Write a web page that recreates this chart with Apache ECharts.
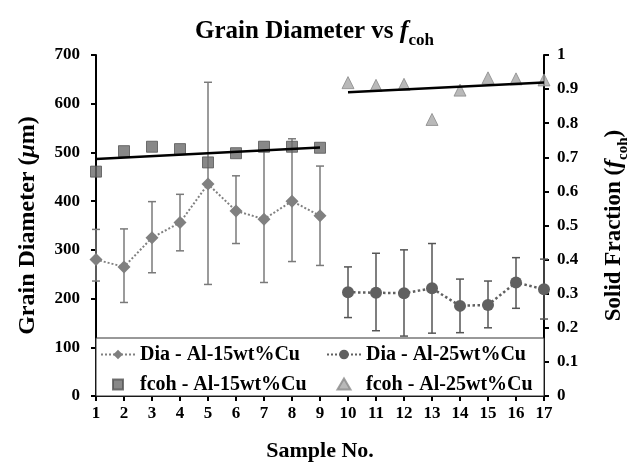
<!DOCTYPE html>
<html>
<head>
<meta charset="utf-8">
<script src="https://cdn.jsdelivr.net/npm/echarts@6/dist/echarts.min.js"></script>
<style>
  html, body { margin: 0; padding: 0; background: #fff; }
  #main { width: 629px; height: 471px; }
</style>
</head>
<body>
<div id="main"></div>
<script>
var samples15 = [1, 2, 3, 4, 5, 6, 7, 8, 9]
var samples25 = [10, 11, 12, 13, 14, 15, 16, 17]

// grain diameter (um) with error bar ends
var dia15 = [280, 265, 325, 356, 435, 380, 363, 400, 370]
var dia15Low = [236, 192, 253, 298, 229, 313, 233, 276, 268]
var dia15High = [342, 343, 399, 414, 644, 452, 505, 528, 472]
var dia25 = [213, 212, 211, 221, 185, 187, 233, 219]
var dia25Low = [161, 134, 123, 129, 130, 140, 180, 158]
var dia25High = [265, 293, 300, 313, 240, 236, 284, 281]

// solid fraction at coherency
var fcoh15 = [0.658, 0.718, 0.731, 0.724, 0.685, 0.712, 0.731, 0.731, 0.728]
var fcoh25 = [0.919, 0.911, 0.914, 0.811, 0.897, 0.933, 0.930, 0.927]

// linear trend lines (end points)
var trend15 = [[1, 0.695], [9, 0.729]]
var trend25 = [[10, 0.891], [17, 0.919]]

var FONT = "'Liberation Serif', 'Times New Roman', serif"

// legend icons: small marker centred in a 34x12 box
var squareIcon = 'path://M0 0M34 0M34 12M0 12M12 1h10v10h-10z'
var triangleIcon = 'path://M0 0M34 0M34 12M0 12M17 0L23.5 11L10.5 11z'

function pairs(xs, ys) {
    return xs.map(function (x, i) { return [x, ys[i]] })
}
function bars(xs, lo, hi) {
    return xs.map(function (x, i) { return [x, lo[i], hi[i]] })
}

function errorBar(color) {
    return function (params, api) {
        var x = api.value(0)
        var lo = api.coord([x, api.value(1)])
        var hi = api.coord([x, api.value(2)])
        var style = { stroke: color, lineWidth: 1.5 }
        return {
            type: 'group',
            children: [
                { type: 'line', shape: { x1: lo[0], y1: lo[1], x2: hi[0], y2: hi[1] }, style: style },
                { type: 'line', shape: { x1: hi[0] - 4, y1: hi[1], x2: hi[0] + 4, y2: hi[1] }, style: style },
                { type: 'line', shape: { x1: lo[0] - 4, y1: lo[1], x2: lo[0] + 4, y2: lo[1] }, style: style }
            ]
        }
    }
}

var myChart = echarts.init(document.getElementById('main'))

var boldText = { fontFamily: FONT, fontWeight: 'bold', color: '#000' }

const option = {
    animation: false,
    title: {
        text: '{a|Grain Diameter vs }{f|f}{s|coh}',
        left: 'center',
        top: 9,
        textStyle: {
            rich: {
                a: Object.assign({ fontSize: 25, lineHeight: 30, verticalAlign: 'bottom' }, boldText),
                f: Object.assign({ fontSize: 26, fontStyle: 'italic', lineHeight: 30, verticalAlign: 'bottom' }, boldText),
                s: Object.assign({ fontSize: 17, lineHeight: 22, verticalAlign: 'bottom', padding: [0, 0, -5, 0] }, boldText)
            }
        }
    },
    grid: {
        left: 96,
        right: 85,
        top: 55,
        bottom: 75,
        outerBoundsMode: 'none'
    },
    legend: {
        data: [
            'Dia - Al-15wt%Cu',
            'Dia - Al-25wt%Cu',
            { name: 'fcoh - Al-15wt%Cu', icon: squareIcon },
            { name: 'fcoh - Al-25wt%Cu', icon: triangleIcon }
        ],
        left: 100,
        top: 341,
        width: 470,
        padding: 0,
        itemGap: 3,
        itemWidth: 34,
        itemHeight: 12,
        z: 10,
        textStyle: {
            fontFamily: FONT,
            fontWeight: 'bold',
            fontSize: 20,
            color: '#000',
            width: 183,
            lineHeight: 27
        }
    },
    graphic: [
        {
            type: 'rect',
            z: 5,
            shape: { x: 96, y: 338, width: 448, height: 58 },
            style: { fill: '#fff', stroke: '#333', lineWidth: 1 }
        }
    ],
    xAxis: {
        type: 'value',
        min: 1,
        max: 17,
        interval: 1,
        name: 'Sample No.',
        nameLocation: 'middle',
        nameGap: 44,
        nameTextStyle: Object.assign({ fontSize: 22 }, boldText),
        splitLine: { show: false },
        axisLine: { lineStyle: { color: '#000', width: 2 } },
        axisTick: { lineStyle: { color: '#000', width: 2 }, length: 5 },
        axisLabel: Object.assign({ fontSize: 17, margin: 9 }, boldText)
    },
    yAxis: [
        {
            type: 'value',
            min: 0,
            max: 700,
            interval: 100,
            name: '{a|Grain Diameter (}{i|μ}{a|m)}',
            nameLocation: 'middle',
            nameGap: 56,
            nameTextStyle: {
                rich: {
                    a: Object.assign({ fontSize: 24 }, boldText),
                    i: Object.assign({ fontSize: 24, fontStyle: 'italic' }, boldText)
                }
            },
            splitLine: { show: false },
            axisLine: { show: true, lineStyle: { color: '#000', width: 2 } },
            axisTick: { show: true, lineStyle: { color: '#000', width: 2 }, length: 5 },
            axisLabel: Object.assign({ fontSize: 17, margin: 16 }, boldText)
        },
        {
            type: 'value',
            min: 0,
            max: 1,
            interval: 0.1,
            position: 'right',
            name: '{a|Solid Fraction (}{f|f}{s|coh}{a|)}',
            nameLocation: 'middle',
            nameGap: 54,
            nameTextStyle: {
                rich: {
                    a: Object.assign({ fontSize: 23, lineHeight: 28, verticalAlign: 'bottom' }, boldText),
                    f: Object.assign({ fontSize: 24, fontStyle: 'italic', lineHeight: 28, verticalAlign: 'bottom' }, boldText),
                    s: Object.assign({ fontSize: 15, lineHeight: 20, verticalAlign: 'bottom', padding: [0, 0, -5, 0] }, boldText)
                }
            },
            splitLine: { show: false },
            axisLine: { show: true, lineStyle: { color: '#000', width: 2 } },
            axisTick: { show: true, lineStyle: { color: '#000', width: 2 }, length: 5 },
            axisLabel: Object.assign({ fontSize: 17, margin: 13 }, boldText)
        }
    ],
    series: [
        {
            name: 'err15',
            type: 'custom',
            yAxisIndex: 0,
            z: 1,
            renderItem: errorBar('#7a7a7a'),
            data: bars(samples15, dia15Low, dia15High)
        },
        {
            name: 'err25',
            type: 'custom',
            yAxisIndex: 0,
            z: 1,
            renderItem: errorBar('#555555'),
            data: bars(samples25, dia25Low, dia25High)
        },
        {
            name: 'Dia - Al-15wt%Cu',
            type: 'line',
            yAxisIndex: 0,
            symbol: 'diamond',
            symbolSize: 13,
            itemStyle: { color: '#808080' },
            lineStyle: { color: '#808080', width: 2, type: 'dotted' },
            data: pairs(samples15, dia15)
        },
        {
            name: 'Dia - Al-25wt%Cu',
            type: 'line',
            yAxisIndex: 0,
            symbol: 'circle',
            symbolSize: 12,
            itemStyle: { color: '#606060' },
            lineStyle: { color: '#606060', width: 2.5, type: 'dotted' },
            data: pairs(samples25, dia25)
        },
        {
            name: 'fcoh - Al-15wt%Cu',
            type: 'scatter',
            yAxisIndex: 1,
            symbol: 'rect',
            symbolSize: 11,
            itemStyle: { color: '#6a6a6a', borderColor: '#555', borderWidth: 1 },
            data: pairs(samples15, fcoh15)
        },
        {
            name: 'fcoh - Al-25wt%Cu',
            type: 'scatter',
            yAxisIndex: 1,
            symbol: 'triangle',
            symbolSize: 12,
            itemStyle: { color: '#a8a8a8', borderColor: '#8a8a8a', borderWidth: 1 },
            data: pairs(samples25, fcoh25)
        },
        {
            name: 'trend15',
            type: 'line',
            yAxisIndex: 1,
            symbol: 'none',
            z: 3,
            lineStyle: { color: '#000', width: 2.5 },
            data: trend15
        },
        {
            name: 'trend25',
            type: 'line',
            yAxisIndex: 1,
            symbol: 'none',
            z: 3,
            lineStyle: { color: '#000', width: 2.5 },
            data: trend25
        }
    ]
};
myChart.setOption(option)
</script>
</body>
</html>
